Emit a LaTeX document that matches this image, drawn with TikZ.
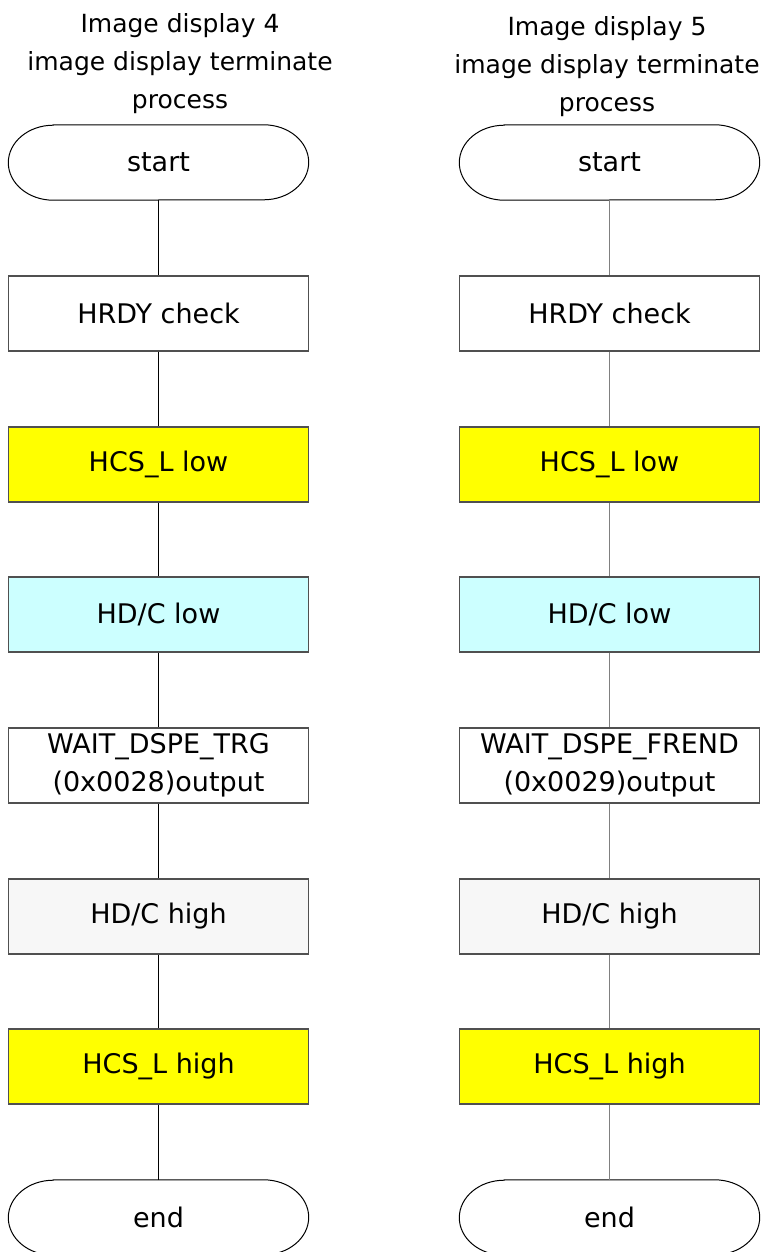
\documentclass[tikz,border=0pt]{standalone}
\usepackage{fontspec}
\setmainfont{DejaVu Sans}
\definecolor{boxyellow}{HTML}{FFFF00}
\definecolor{boxcyan}{HTML}{CCFFFF}
\definecolor{boxpale}{HTML}{F7F7F7}
\definecolor{rimgray}{HTML}{505050}
\definecolor{wiregray}{HTML}{808080}
% stadium outline drawn around a named (undrawn) terminal node
\newcommand\termoutline[1]{%
  \draw[line width=1pt]
    ([xshift=45pt]#1.north west) -- ([xshift=-45pt]#1.north east)
    arc[start angle=90,end angle=-90,x radius=45pt,y radius=37.5pt]
    -- ([xshift=45pt]#1.south west)
    arc[start angle=270,end angle=90,x radius=45pt,y radius=37.5pt]
    -- cycle;}
\begin{document}
\begin{tikzpicture}[x=1pt,y=-1pt,
  boxtext/.style={font=\fontsize{27}{38}\selectfont, align=center},
  stepbox/.style={boxtext, draw=rimgray, line width=1.2pt, fill=white,
    minimum width=300pt, minimum height=75pt, inner sep=0pt},
  termbox/.style={boxtext, minimum width=300pt, minimum height=75pt, inner sep=0pt},
  titletext/.style={font=\fontsize{25}{38}\selectfont, align=center},
  linkL/.style={draw=black, line width=1.2pt},
  linkR/.style={draw=wiregray, line width=1.8pt}]
\useasboundingbox (0,0) rectangle (764,1252);

% titles
\node[titletext] (tL) at (180,64) {Image display 4\\image display terminate\\process};
\node[titletext] (tR) at (607,67) {Image display 5\\image display terminate\\process};

% left column
\node[termbox] (sL) at (158.5,162.5) {start};
\node[stepbox] (aL) at (158.5,313.5) {HRDY check};
\node[stepbox, fill=boxyellow] (bL) at (158.5,464.5) {HCS\_L low};
\node[stepbox, fill=boxcyan] (cL) at (158.5,614.5) {HD/C low};
\node[stepbox] (dL) at (158.5,765.5) {WAIT\_DSPE\_TRG\\(0x0028)output};
\node[stepbox, fill=boxpale] (eL) at (158.5,916.5) {HD/C high};
\node[stepbox, fill=boxyellow] (fL) at (158.5,1066.5) {HCS\_L high};
\node[termbox] (zL) at (158.5,1217.5) {end};

% right column
\node[termbox] (sR) at (609.5,162.5) {start};
\node[stepbox] (aR) at (609.5,313.5) {HRDY check};
\node[stepbox, fill=boxyellow] (bR) at (609.5,464.5) {HCS\_L low};
\node[stepbox, fill=boxcyan] (cR) at (609.5,614.5) {HD/C low};
\node[stepbox] (dR) at (609.5,765.5) {WAIT\_DSPE\_FREND\\(0x0029)output};
\node[stepbox, fill=boxpale] (eR) at (609.5,916.5) {HD/C high};
\node[stepbox, fill=boxyellow] (fR) at (609.5,1066.5) {HCS\_L high};
\node[termbox] (zR) at (609.5,1217.5) {end};

\termoutline{sL}\termoutline{zL}
\termoutline{sR}\termoutline{zR}

% connectors
\draw[linkL] (sL.south) -- (aL.north);
\draw[linkL] (aL) -- (bL);
\draw[linkL] (bL) -- (cL);
\draw[linkL] (cL) -- (dL);
\draw[linkL] (dL) -- (eL);
\draw[linkL] (eL) -- (fL);
\draw[linkL] (fL.south) -- (zL.north);

\draw[linkR] (sR.south) -- (aR.north);
\draw[linkR] (aR) -- (bR);
\draw[linkR] (bR) -- (cR);
\draw[linkR] (cR) -- (dR);
\draw[linkR] (dR) -- (eR);
\draw[linkR] (eR) -- (fR);
\draw[linkR] (fR.south) -- (zR.north);
\end{tikzpicture}
\end{document}
